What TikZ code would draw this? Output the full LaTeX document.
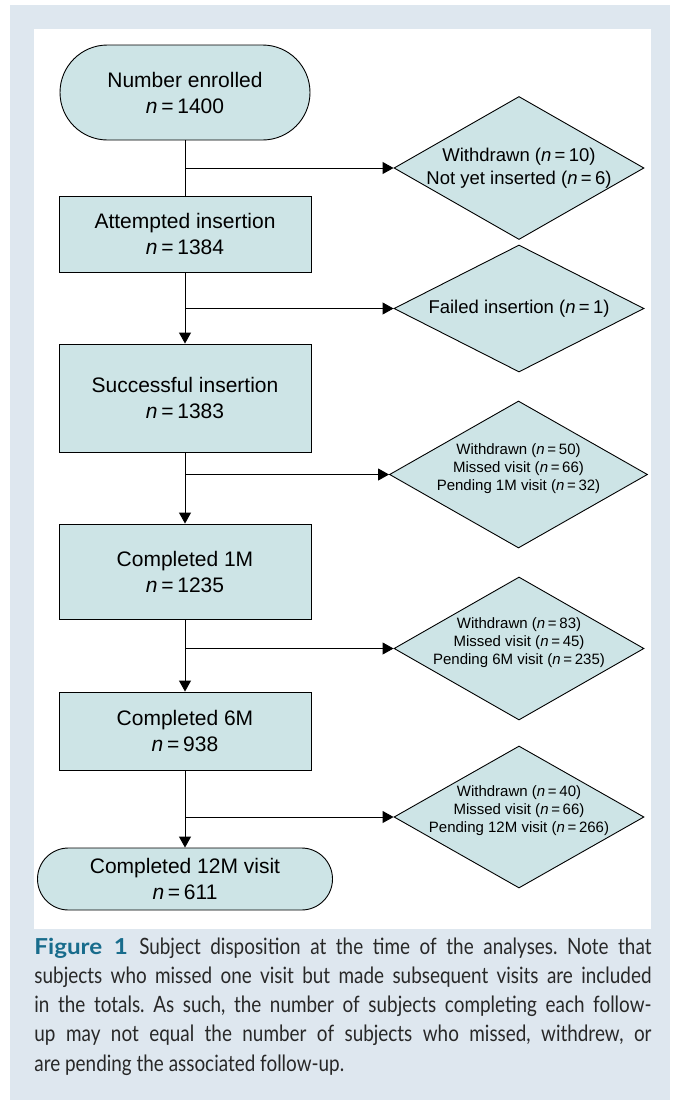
\documentclass[tikz,border=0pt]{standalone}
\usepackage{fontspec}
\setmainfont{Liberation Sans}
\newfontfamily\capfont[FakeStretch=0.84]{Lato}
\newfontfamily\figfont[FakeStretch=1.1]{Lato}
\usetikzlibrary{shapes}
\usetikzlibrary{arrows.meta}
\definecolor{boxfill}{RGB}{205,228,230}
\definecolor{pagebg}{RGB}{222,231,239}
\definecolor{figblue}{RGB}{24,108,140}
\definecolor{captext}{RGB}{40,40,40}
\newcommand{\ncount}[1]{\textit{n}\hspace{0.18em}=\hspace{0.18em}#1}
\tikzset{
	flownode/.style = {
		align=center,
		inner sep=0pt,
		text centered,
		font=\fontsize{21}{26}\selectfont,
		draw=black,
		fill=boxfill,
		line width=0.9pt
	},
	node_box/.style = {
		flownode,
		rectangle,
		minimum width=252pt
	},
	node_end/.style = {
		flownode,
		rounded rectangle
	},
	node_excl/.style = {
		flownode,
		diamond,
		minimum width=250pt,
		minimum height=143pt
	},
	excl_big/.style = {
		align=center,
		inner sep=0pt,
		font=\fontsize{18.5}{22.7}\selectfont
	},
	excl_small/.style = {
		align=center,
		inner sep=0pt,
		yshift=6pt,
		font=\fontsize{15}{18}\selectfont
	},
	caption_text/.style = {
		align=justify,
		inner sep=0pt,
		text width=617pt,
		text=captext,
		font=\capfont\fontsize{22.5}{29.3}\selectfont\frenchspacing
	},
}
\begin{document}
\begin{tikzpicture}[x=1pt, y=-1pt, >={Triangle[length=11pt,width=12pt]}, line width=0.9pt]
\useasboundingbox (0,0) rectangle (673,1100);
\fill [pagebg] (10,5) rectangle (670,1100);
\fill [white] (34,29) rectangle (651,929);

\node [node_end, minimum width=250pt, minimum height=95pt] (enrolled) at (185,92.5) {Number enrolled\\\ncount{1400}};
\node [node_box, minimum height=76pt] (attempted) at (185,234) {Attempted insertion\\\ncount{1384}};
\node [node_box, minimum height=108pt] (successful) at (185,398) {Successful insertion\\\ncount{1383}};
\node [node_box, minimum height=95pt] (month1) at (185,571.5) {Completed 1M\\\ncount{1235}};
\node [node_box, minimum height=78pt] (month6) at (185,731) {Completed 6M\\\ncount{938}};
\node [node_end, minimum width=295pt, minimum height=62pt] (month12) at (185,879) {Completed 12M visit\\\ncount{611}};

\node [node_excl, label={[excl_big]center:{Withdrawn (\ncount{10})\\Not yet inserted (\ncount{6})}}] (excl1) at (519,168) {};
\node [node_excl, minimum height=127pt, label={[excl_big]center:{Failed insertion (\ncount{1})}}] (excl2) at (519,308.5) {};
\node [node_excl, minimum width=258pt, minimum height=147pt, label={[excl_small]center:{Withdrawn (\ncount{50})\\Missed visit (\ncount{66})\\Pending 1M visit (\ncount{32})}}] (excl3) at (518.5,474.5) {};
\node [node_excl, label={[excl_small]center:{Withdrawn (\ncount{83})\\Missed visit (\ncount{45})\\Pending 6M visit (\ncount{235})}}] (excl4) at (519,648.5) {};
\node [node_excl, minimum height=142pt, label={[excl_small]center:{Withdrawn (\ncount{40})\\Missed visit (\ncount{66})\\Pending 12M visit (\ncount{266})}}] (excl5) at (519,817) {};

\coordinate (split1) at (185,168);
\coordinate (split2) at (185,308.5);
\coordinate (split3) at (185,474.5);
\coordinate (split4) at (185,648.5);
\coordinate (split5) at (185,817);

\draw (enrolled.south) -- (attempted.north);
\draw [->] (attempted) -- (successful);
\draw [->] (successful) -- (month1);
\draw [->] (month1) -- (month6);
\draw [->] (month6) -- (month12);
\draw [->] (split1) -- (excl1.west);
\draw [->] (split2) -- (excl2.west);
\draw [->] (split3) -- (excl3.west);
\draw [->] (split4) -- (excl4.west);
\draw [->] (split5) -- (excl5.west);

\node [caption_text, anchor=north west] (caption) at (34,937) {{\figfont\bfseries\fontsize{22}{29.3}\selectfont\color{figblue}Figure 1}\hspace{0.5em}Subject disposition at the time of the analyses. Note that\linebreak subjects who missed one visit but made subsequent visits are included\linebreak in the totals. As such, the number of subjects completing each follow-\linebreak up may not equal the number of subjects who missed, withdrew, or\linebreak are pending the associated follow-up.};
\end{tikzpicture}
\end{document}
